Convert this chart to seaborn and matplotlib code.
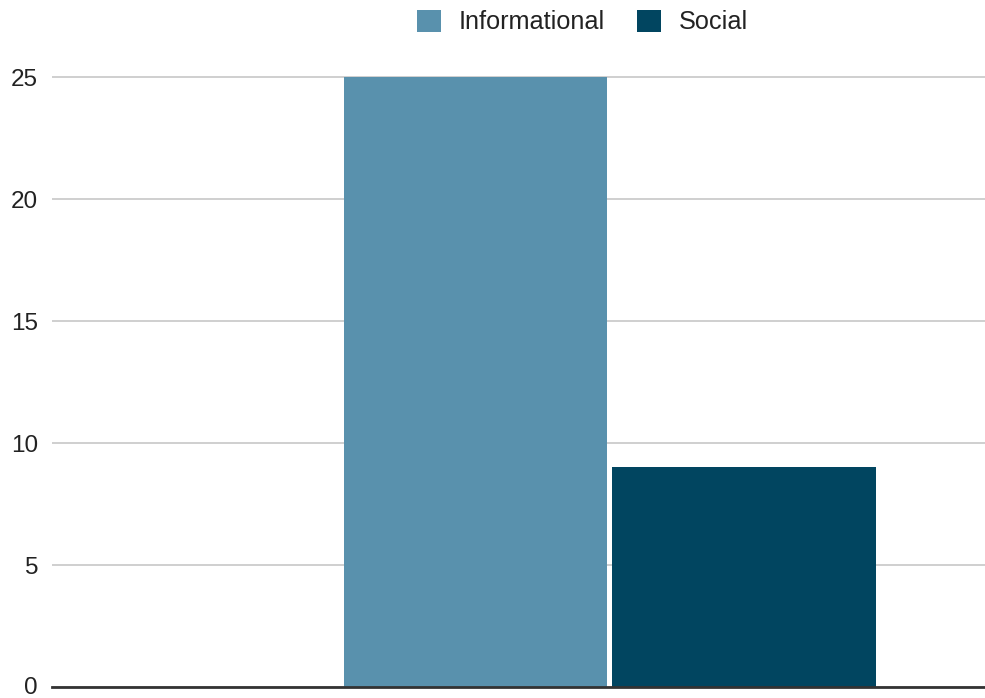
import matplotlib
matplotlib.use("Agg")
import matplotlib.pyplot as plt
import matplotlib.transforms as mtransforms
import seaborn as sns
import pandas as pd

categories = [""]
series = ["Informational", "Social"]
values_informational = [25]
values_social = [9]
colors = ["#5991AD", "#014560"]
y_ticks = [0, 5, 10, 15, 20, 25]

sns.set_theme(style="white")
plt.rcParams["font.family"] = ["Liberation Sans", "DejaVu Sans"]

df = pd.DataFrame({
    "category": categories * 2,
    "series": [series[0]] * len(categories) + [series[1]] * len(categories),
    "value": values_informational + values_social,
})

fig = plt.figure(figsize=(9.85, 6.98), dpi=100)
ax = fig.add_axes([52 / 985, 1 - 687 / 698, 1 - 52 / 985, (687 - 70) / 698])

sns.barplot(data=df, x="category", y="value", hue="series", hue_order=series,
            palette=colors, width=0.8, gap=0.02, ax=ax, saturation=1,
            edgecolor="none", linewidth=0, errorbar=None)

ax.set_xlim(-0.831, 0.559)
ax.set_ylim(0, 25 + 7 / 24.4)
ax.set_yticks(y_ticks)
ax.set_yticklabels([str(t) for t in y_ticks], fontsize=17.5, color="#222222")
ax.set_xticks([])
ax.set_xlabel("")
ax.set_ylabel("")
ax.yaxis.grid(True, color="#cccccc", linewidth=1.3)
ax.set_axisbelow(True)
for s in ["top", "right", "left"]:
    ax.spines[s].set_visible(False)
ax.spines["bottom"].set_color("#333333")
ax.spines["bottom"].set_linewidth(2)
ax.spines["bottom"].set_zorder(5)
ax.tick_params(axis="y", length=0, pad=10)

# nudge the bottom "0" label up slightly so it is not clipped at the figure edge
zero_tick = ax.yaxis.get_major_ticks()[0]
zero_tick.label1.set_transform(zero_tick.label1.get_transform() +
                               mtransforms.ScaledTranslation(0, 2 / 100, fig.dpi_scale_trans))

leg = ax.legend_
if leg is not None:
    leg.remove()
handles, labels = ax.get_legend_handles_labels()
fig.legend(handles, labels, loc="center", bbox_to_anchor=(582.5 / 985, 1 - 22 / 698),
           ncol=2, frameon=False, fontsize=18.2, handlelength=0.95, handleheight=0.95,
           handletextpad=0.68, columnspacing=1.3, labelcolor="#222222")

fig.savefig("out.png", dpi=100)
